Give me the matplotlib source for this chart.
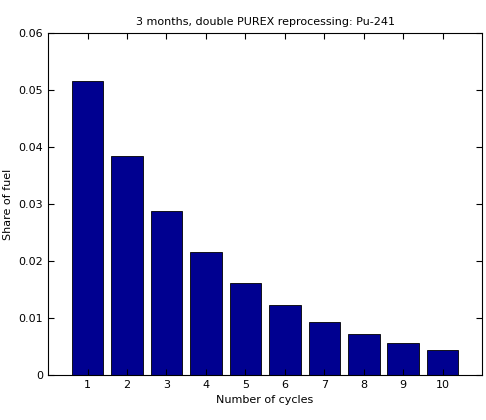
import matplotlib

matplotlib.use("Agg")
import matplotlib.pyplot as plt

cycles = [1, 2, 3, 4, 5, 6, 7, 8, 9, 10]
share = [0.0516, 0.0384, 0.0288, 0.0216, 0.0161, 0.0123, 0.0093, 0.0072, 0.0056, 0.0044]

plt.rcParams["font.family"] = "DejaVu Sans"
plt.rcParams["font.size"] = 8

fig = plt.figure(figsize=(4.86, 4.2), dpi=100)
ax = fig.add_axes([0.099, 0.107, 0.893, 0.814])
ax.bar(cycles, share, width=0.8, color="#000090", edgecolor="black", linewidth=0.6)
ax.set_xlim(0, 11)
ax.set_ylim(0, 0.06)
ax.set_xticks(cycles)
ax.set_yticks([0, 0.01, 0.02, 0.03, 0.04, 0.05, 0.06])
ax.set_yticklabels(["0", "0.01", "0.02", "0.03", "0.04", "0.05", "0.06"])
ax.tick_params(direction="in", top=True, right=True, length=4)
ax.set_xlabel("Number of cycles")
ax.set_ylabel("Share of fuel")
ax.set_title("3 months, double PUREX reprocessing: Pu-241", fontsize=8)
fig.savefig("out.png", dpi=100)
